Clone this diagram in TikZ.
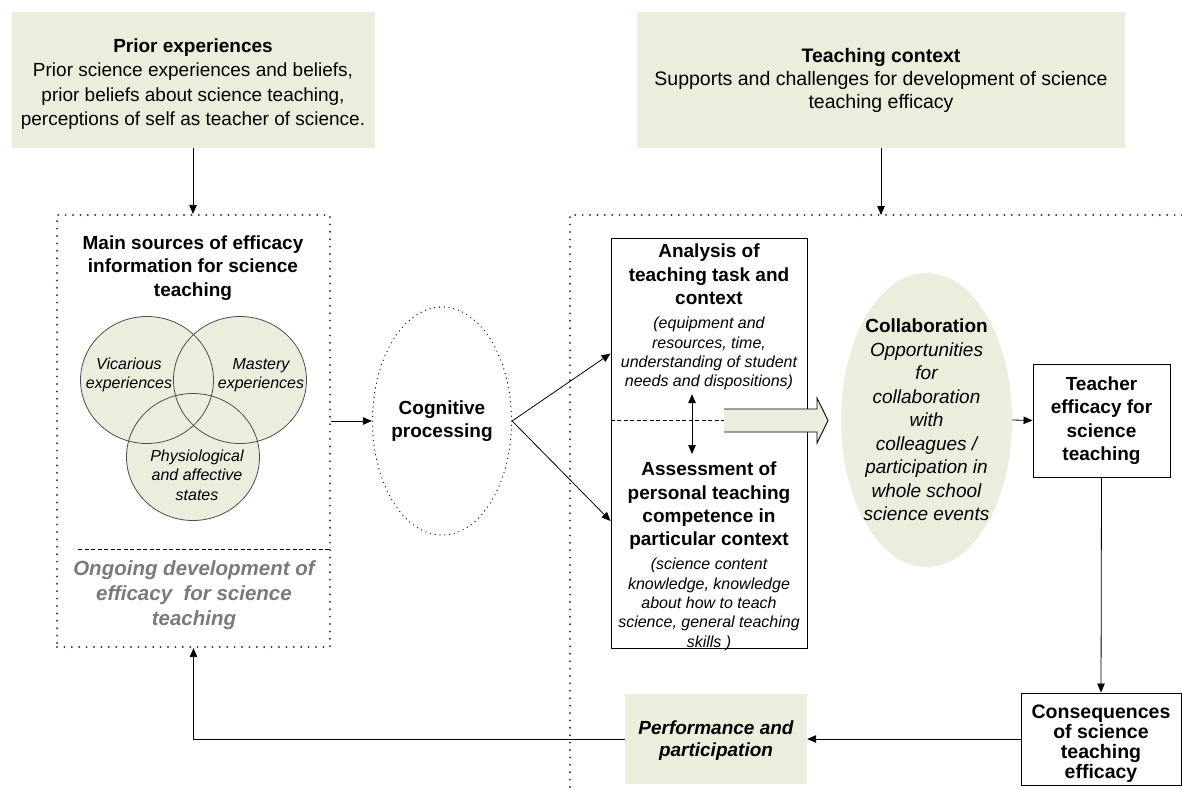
\documentclass[tikz,border=0pt]{standalone}
\usepackage{fontspec}
\setmainfont{Liberation Sans}
\usepackage{xcolor}
\usepackage{tikz}
\usetikzlibrary{shapes.geometric, arrows.meta, positioning, calc, backgrounds}
\definecolor{leaf}{RGB}{234,238,221}
\definecolor{dotgray}{RGB}{60,60,60}
\definecolor{fadegray}{RGB}{122,122,122}
\newcommand{\bigsize}{\fontsize{19}{23.3}\selectfont}
\newcommand{\smallsize}{\fontsize{16}{19.3}\selectfont}

\begin{document}
\begin{tikzpicture}[
    x=1pt, y=-1pt,
    font=\bigsize,
    greenbox/.style={fill=leaf, align=center, inner sep=0pt},
    box/.style={draw, line width=0.9pt, fill=white, align=center, inner sep=0pt},
    txt/.style={align=center, inner sep=0pt},
    dotbox/.style={draw=dotgray, line width=2.2pt, line cap=round, dash pattern=on 0pt off 7.4pt},
    venn/.style={ellipse, draw=black!70, line width=0.8pt, minimum width=133pt, minimum height=127pt},
    flow/.style={-{Triangle[length=9pt,width=7.5pt]}, line width=0.8pt},
    twoway/.style={{Triangle[length=9pt,width=7.5pt]}-{Triangle[length=9pt,width=7.5pt]}, line width=0.8pt},
    divider/.style={dash pattern=on 4pt off 2.5pt, line width=0.8pt}
]
    \useasboundingbox (0,0) rectangle (1182,789);
    \node[greenbox, minimum width=363pt, minimum height=136pt] (prior) at (193,80) {};
    \node[txt, font=\fontsize{19}{24.5}\selectfont] (priortext) at ($(prior)+(0,4)$) {\textbf{Prior experiences}\\Prior science experiences and beliefs,\\prior beliefs about science teaching,\\perceptions of self as teacher of science.};
    \node[greenbox, minimum width=488pt, minimum height=136pt, font=\fontsize{19.5}{23}\selectfont] (context) at (881,80) {\textbf{Teaching context}\\Supports and challenges for development of science\\teaching efficacy};
    \node[dotbox, minimum width=273pt, minimum height=432pt] (sources) at (193.5,431) {};
    \node[txt, font=\bigsize\bfseries] (mainsrc) at (193,268) {Main sources of efficacy\\information for science\\teaching};
    \node[venn] (vicarious) at (147,380) {};
    \node[venn] (mastery) at (240,380) {};
    \node[venn] (physio) at (193,457) {};
    \begin{scope}[on background layer]
        \foreach \s in {vicarious,mastery,physio}
            \fill[leaf] (\s.center) ellipse [x radius=66.5, y radius=63.5];
    \end{scope}
    \node[txt, font=\smallsize\itshape] (vicariouslabel) at (129,375) {Vicarious\\experiences};
    \node[txt, font=\smallsize\itshape] (masterylabel) at (261,375) {Mastery\\experiences};
    \node[txt, font=\smallsize\itshape] (physiolabel) at (197,475) {Physiological\\and affective\\states};
    \draw[divider] (78,549) -- (sources.east |- 78,549);
    \node[txt, font=\fontsize{20.5}{25}\selectfont\bfseries\itshape, text=fadegray] (ongoing) at (194,595) {Ongoing development of\\efficacy\ \ for science\\teaching};
    \node[ellipse, draw, line width=1.3pt, line cap=round, dash pattern=on 0pt off 4.8pt, minimum width=139pt, minimum height=228pt] (cognitive) at (442,421) {};
    \node[txt, font=\bigsize\bfseries] (cognitivetext) at (cognitive) {Cognitive\\processing};
    \coordinate (stage) at (570,215);
    \draw[dotbox] (1182,215) -- (stage) -- (570,789);
    \draw[flow] (prior.south) -- (prior.south |- sources.north);
    \draw[flow] (context.south) -- (context.south |- stage);
    \draw[flow] (sources.east |- cognitive.west) -- (cognitive.west);
    \node[box, minimum width=196pt, minimum height=410pt] (taskbox) at (709,443) {};
    \node[txt, font=\bigsize\bfseries, anchor=north] (analysis) at (709,244) {Analysis of\\teaching task and\\context};
    \node[txt, font=\smallsize\itshape, below=12pt of analysis] (analysisnote) {(equipment and\\resources, time,\\understanding of student\\needs and dispositions)};
    \node[txt, font=\bigsize\bfseries, anchor=north] (assessment) at (709,462) {Assessment of\\personal teaching\\competence in\\particular context};
    \node[txt, font=\smallsize\itshape, below=8pt of assessment] (assessmentnote) {(science content\\knowledge, knowledge\\about how to teach\\science, general teaching\\skills )};
    \coordinate (fat) at (724,420.5);
    \fill[leaf] (fat) ++(0,-11.5) -- ++(93,0) -- ++(0,-11) -- ++(11,22.5) -- ++(-11,22.5) -- ++(0,-11) -- ++(-93,0) -- cycle;
    \draw[line width=0.9pt] (fat) ++(0,11.5) -- ++(93,0) -- ++(0,11) -- ++(11,-22.5) -- ++(-11,-22.5) -- ++(0,11) -- ++(-93,0);
    \draw[divider] (taskbox.west |- fat) -- (fat);
    \draw[twoway, shorten <=4pt, shorten >=8pt] ([xshift=-17pt]analysisnote.south) -- ([xshift=-17pt]assessment.north);
    \draw[flow] (cognitive.east) -- (taskbox.west |- analysisnote);
    \draw[flow] (cognitive.east) -- ($(taskbox.west |- assessment)+(0,15)$);
    \node[ellipse, fill=leaf, minimum width=171pt, minimum height=294pt] (collab) at (926.5,420) {};
    \node[txt, font=\fontsize{19}{23.5}\selectfont\itshape] (collabtext) at (collab) {\textbf{\upshape Collaboration}\\Opportunities\\for\\collaboration\\with\\colleagues /\\participation in\\whole school\\science events};
    \node[box, minimum width=137pt, minimum height=113pt, font=\bigsize\bfseries] (teacher) at (1101.5,420.5) {Teacher\\efficacy for\\science\\teaching};
    \draw[flow] (collab.east) -- (teacher.west);
    \node[box, minimum width=160pt, minimum height=92pt] (conseq) at (1101,739) {};
    \node[txt, font=\fontsize{19.5}{20}\selectfont\bfseries] (conseqtext) at ($(conseq)+(0,5)$) {Consequences\\of science\\teaching\\efficacy};
    \draw[flow] (teacher.south) -- (conseq.north);
    \node[greenbox, minimum width=182pt, minimum height=90pt] (perform) at (716,739) {};
    \node[txt, font=\fontsize{19}{22}\selectfont\bfseries\itshape] (performtext) at ($(perform)+(0,1.5)$) {Performance and\\participation};
    \draw[flow] (conseq.west) -- (perform.east);
    \draw[flow] (perform.west) -| (sources.south);
\end{tikzpicture}
\end{document}
